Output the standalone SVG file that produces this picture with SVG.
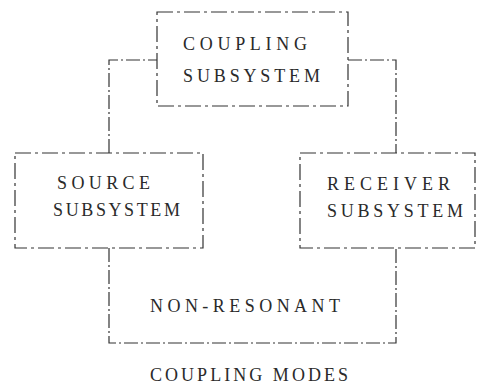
<svg xmlns="http://www.w3.org/2000/svg" width="485" height="388" viewBox="0 0 485 388">
<style>
.box{fill:none;stroke:#333;stroke-width:1.2;stroke-dasharray:16 4 3 4}
.ln{fill:none;stroke:#333;stroke-width:1.2;stroke-dasharray:14 3 2 3}
.t{font-family:"Liberation Serif","DejaVu Serif",serif;font-size:18px;fill:#2a2a2a}
</style>
<rect width="485" height="388" fill="#fff"/>
<g id="connectors">
<path class="ln" d="M109 153 V60 H157"/>
<path class="ln" d="M348 60 H396 V153"/>
<path class="ln" d="M109 248 V343 H396 V248"/>
</g>
<g id="coupling">
<rect class="box" x="157" y="12" width="191" height="94"/>
<text class="t" x="183" y="50" textLength="124" lengthAdjust="spacing">COUPLING</text>
<text class="t" x="183" y="82" textLength="137" lengthAdjust="spacing">SUBSYSTEM</text>
</g>
<g id="source">
<rect class="box" x="15" y="153" width="188" height="95"/>
<text class="t" x="57" y="189" textLength="93" lengthAdjust="spacing">SOURCE</text>
<text class="t" x="53" y="216" textLength="127" lengthAdjust="spacing">SUBSYSTEM</text>
</g>
<g id="receiver">
<rect class="box" x="300" y="153" width="175" height="95"/>
<text class="t" x="327" y="190" textLength="123" lengthAdjust="spacing">RECEIVER</text>
<text class="t" x="327" y="217" textLength="136" lengthAdjust="spacing">SUBSYSTEM</text>
</g>
<g id="nonresonant">
<text class="t" x="150" y="312" textLength="190" lengthAdjust="spacing">NON-RESONANT</text>
</g>
<g id="caption">
<text class="t" x="150" y="381" textLength="198" lengthAdjust="spacing">COUPLING MODES</text>
</g>
</svg>
